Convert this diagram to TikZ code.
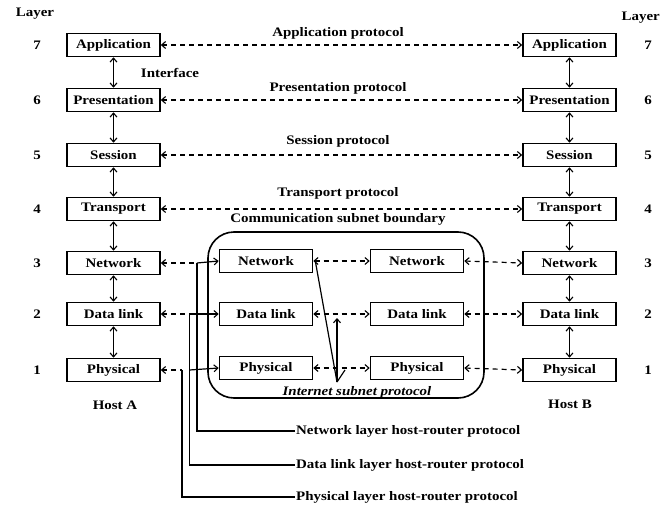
\documentclass[tikz,border=0pt]{standalone}
\usepackage{fontspec}
\setmainfont{Liberation Serif}[FakeStretch=1.15]
\usetikzlibrary{arrows.meta}
\begin{document}
\begin{tikzpicture}[x=1pt,y=-1pt,
  tip/.tip={Straight Barb[length=4pt,width=7pt,line width=1.1pt]},
  layerbox/.style={draw,line width=1.6pt,minimum width=93pt,minimum height=23pt,
    inner sep=0pt,font=\bfseries\fontsize{13}{15}\selectfont},
  lbl/.style={font=\bfseries\fontsize{13}{15}\selectfont,inner sep=1pt},
  num/.style={font=\bfseries\fontsize{13}{15}\selectfont},
  proto/.style={line width=1.2pt,dash pattern=on 5pt off 4pt,tip-tip},
  iface/.style={line width=1.2pt,tip-tip},
  solidline/.style={line width=1.2pt},
]
\useasboundingbox (0,0) rectangle (662,506);

% host A stack
\node[layerbox] (a7) at (113.5,45) {Application};
\node[layerbox] (a6) at (113.5,100) {Presentation};
\node[layerbox] (a5) at (113.5,155) {Session};
\node[layerbox] (a4) at (113.5,209) {Transport};
\node[layerbox] (a3) at (113.5,263) {Network};
\node[layerbox] (a2) at (113.5,314) {Data link};
\node[layerbox] (a1) at (113.5,370) {Physical};

% host B stack
\node[layerbox] (b7) at (569.5,45) {Application};
\node[layerbox] (b6) at (569.5,100) {Presentation};
\node[layerbox] (b5) at (569.5,155) {Session};
\node[layerbox] (b4) at (569.5,209) {Transport};
\node[layerbox] (b3) at (569.5,263) {Network};
\node[layerbox] (b2) at (569.5,314) {Data link};
\node[layerbox] (b1) at (569.5,370) {Physical};

% the two routers inside the subnet
\node[layerbox] (r3) at (266,261) {Network};
\node[layerbox] (r2) at (266,314) {Data link};
\node[layerbox] (r1) at (266,368) {Physical};
\node[layerbox] (s3) at (417,261) {Network};
\node[layerbox] (s2) at (417,314) {Data link};
\node[layerbox] (s1) at (417,368) {Physical};

% subnet boundary
\draw[line width=1.6pt,rounded corners=26pt] (208,232) rectangle (484,398);

% layer numbers
\node[lbl] at (35,14) {Layer};
\node[lbl,anchor=east] at (661,18) {Layer};
\foreach \n/\y in {7/45,6/100,5/155,4/209,3/263,2/314,1/370}{
  \node[num] at (37,\y) {\n};
  \node[num] at (648,\y) {\n};
}

% interfaces between layers
\foreach \u/\l in {7/6,6/5,5/4,4/3,3/2,2/1}{
  \draw[iface] (a\u.south) -- (a\l.north);
  \draw[iface] (b\u.south) -- (b\l.north);
}
\node[lbl] at (170,73) {Interface};

% end-to-end peer protocols
\draw[proto] (a7.east) -- (b7.west);
\draw[proto] (a6.east) -- (b6.west);
\draw[proto] (a5.east) -- (b5.west);
\draw[proto] (a4.east) -- (b4.west);
\node[lbl] at (338,33) {Application protocol};
\node[lbl] at (338,88) {Presentation protocol};
\node[lbl] at (338,141) {Session protocol};
\node[lbl] at (338,193) {Transport protocol};
\node[lbl] at (338,219) {Communication subnet boundary};

% host A to first router
\coordinate (n3) at (197,263);
\coordinate (n2) at (189.5,314);
\coordinate (n1) at (182,370);
\draw[line width=1.2pt,dash pattern=on 5pt off 4pt,tip-] (a3.east) -- (n3);
\draw[line width=1.2pt,dash pattern=on 5pt off 4pt,tip-] (a2.east) -- (n2);
\draw[line width=1.2pt,dash pattern=on 5pt off 4pt,tip-] (a1.east) -- (n1);
\draw[solidline,-tip] (n3) -- (r3.west);
\draw[solidline,-tip] (n2) -- (r2.west);
\draw[solidline,-tip] (n1 -| n2) -- (r1.west);

% router to router
\draw[proto] (r3.east) -- (s3.west);
\draw[proto] (r2.east) -- (s2.west);
\draw[proto] (r1.east) -- (s1.west);

% second router to host B
\draw[proto] (s3.east) -- (b3.west);
\draw[proto] (s2.east) -- (b2.west);
\draw[proto] (s1.east) -- (b1.west);

% subnet protocol pointers
\coordinate (ip) at (337,382);
\draw[solidline,-tip] (ip) -- (337,318);
\draw[solidline] (ip) -- ([xshift=2pt]r3.east);
\draw[solidline] (ip) -- (345,370);
\node[font=\bfseries\itshape\fontsize{13}{15}\selectfont] at (357,392) {Internet subnet protocol};

% host labels
\node[lbl] at (115,405) {Host A};
\node[lbl] at (570,404) {Host B};

% host-router protocol legend
\coordinate (e3) at (295,431);
\coordinate (e2) at (295,465);
\coordinate (e1) at (295,497);
\draw[solidline] (n3) |- (e3);
\draw[solidline] (n2) |- (e2);
\draw[solidline] (n1) |- (e1);
\node[lbl,anchor=west] at (e3) {Network layer host-router protocol};
\node[lbl,anchor=west] at (e2) {Data link layer host-router protocol};
\node[lbl,anchor=west] at (e1) {Physical layer host-router protocol};
\end{tikzpicture}
\end{document}
